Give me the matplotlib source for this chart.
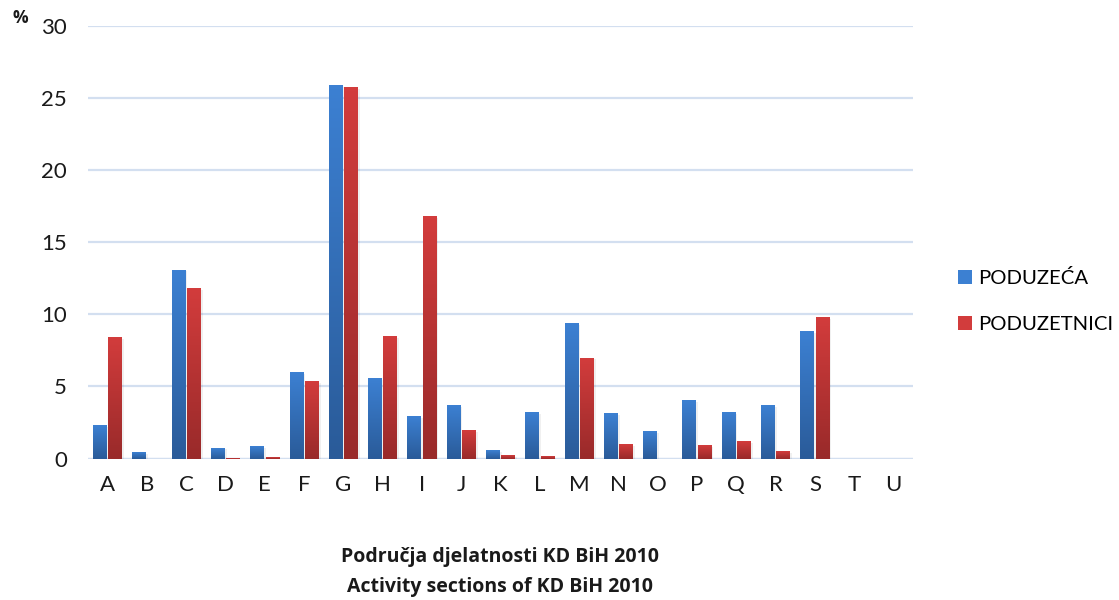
import numpy as np
import matplotlib
matplotlib.use('Agg')
import matplotlib.pyplot as plt
from matplotlib.colors import LinearSegmentedColormap
from matplotlib.patches import Patch

plt.rcParams['font.family'] = ['Lato', 'DejaVu Sans']

# data (% share per activity section)
sections = ['A', 'B', 'C', 'D', 'E', 'F', 'G', 'H', 'I', 'J', 'K',
            'L', 'M', 'N', 'O', 'P', 'Q', 'R', 'S', 'T', 'U']
poduzeca = [2.3, 0.45, 13.1, 0.75, 0.85, 6.0, 25.9, 5.6, 2.95, 3.7, 0.6,
            3.2, 9.4, 3.15, 1.9, 4.05, 3.2, 3.7, 8.85, 0.0, 0.0]
poduzetnici = [8.4, 0.0, 11.8, 0.05, 0.1, 5.35, 25.75, 8.5, 16.8, 1.95, 0.25,
               0.15, 7.0, 1.0, 0.0, 0.95, 1.2, 0.5, 9.8, 0.0, 0.0]
series_names = ['PODUZEĆA', 'PODUZETNICI']

blue_top, blue_bot = '#3c80d2', '#2a5b99'
red_top, red_bot = '#d23c3c', '#992a2a'
blue_cmap = LinearSegmentedColormap.from_list('b', [blue_bot, blue_top])
red_cmap = LinearSegmentedColormap.from_list('r', [red_bot, red_top])

fig = plt.figure(figsize=(11.19, 6.0), dpi=100)
ax = fig.add_axes([0.0786, 0.2358, 0.7374, 0.7209])

x = np.arange(len(sections))
w = 0.35
off = 0.195
grad = np.linspace(0, 1, 64).reshape(-1, 1)[::-1]


def gradient_bars(xs, vals, cmap, color):
    bars = ax.bar(xs, vals, w, color=color, zorder=2)
    for b in bars:
        h = b.get_height()
        if h <= 0:
            continue
        x0 = b.get_x()
        # faint shadow
        ax.bar(x0 + w / 2 + 0.03, h, w + 0.04, bottom=-0.12, color='#000000',
               alpha=0.06, zorder=1.5)
        ax.imshow(grad, extent=[x0, x0 + w, 0, h], aspect='auto', cmap=cmap,
                  zorder=3, interpolation='bilinear')
    return bars


gradient_bars(x - off, poduzeca, blue_cmap, blue_top)
gradient_bars(x + off, poduzetnici, red_cmap, red_top)

ax.set_xlim(-0.5, len(sections) - 0.5)
ax.set_ylim(0, 30)
ax.set_yticks(range(0, 31, 5))
ax.set_xticks(x)
ax.set_xticklabels(sections)
ax.yaxis.grid(True, color='#d3dff0', linewidth=1.6, zorder=0)
ax.set_axisbelow(True)
for s in ax.spines.values():
    s.set_visible(False)
ax.axhline(0, color='#d3dff0', linewidth=1.6, zorder=1)
ax.tick_params(axis='both', length=0, labelsize=16, colors='#1a1a1a')
ax.tick_params(axis='y', pad=15)
ax.tick_params(axis='x', pad=12)

fig.text(0.011, 0.962, '%', fontsize=12.5, fontweight='bold', color='#1a1a1a',
         family=['Open Sans', 'DejaVu Sans'])

handles = [Patch(facecolor=blue_top, edgecolor='none'),
           Patch(facecolor=red_top, edgecolor='none')]
fig.legend(handles, series_names, loc='center left',
           bbox_to_anchor=(0.84, 0.498), frameon=False, fontsize=14.6,
           handlelength=0.7, handleheight=0.7, handletextpad=0.3,
           labelspacing=1.4)

title_font = ['Open Sans', 'DejaVu Sans']
fig.text(0.447, 0.063, 'Područja djelatnosti KD BiH 2010', ha='center',
         fontsize=14, fontweight='bold', color='#1a1a1a', family=title_font)
fig.text(0.447, 0.013, 'Activity sections of KD BiH 2010', ha='center',
         fontsize=14, fontweight='bold', color='#1a1a1a', family=title_font)

fig.savefig('out.png', dpi=100)
